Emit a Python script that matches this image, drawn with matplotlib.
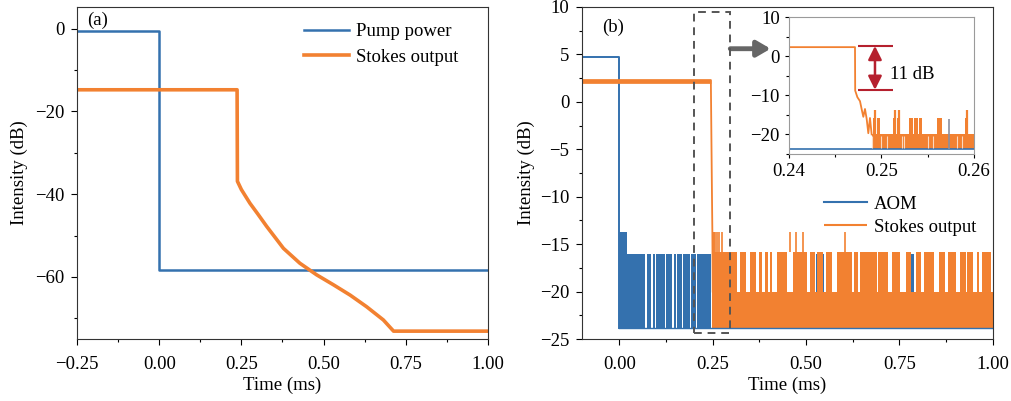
import matplotlib
matplotlib.use('Agg')
from matplotlib import pyplot as plt
from matplotlib.patches import Rectangle
from matplotlib.ticker import MultipleLocator

plt.rcParams['font.family'] = ['Liberation Serif', 'DejaVu Serif']
plt.rcParams['font.size'] = 13.5
plt.rcParams['axes.unicode_minus'] = True

BLUE = '#3471ae'
ORANGE = '#f28131'
RED = '#b5202e'

# ---- panel (a) data
pump_t = [-0.25, 0.0, 0.0, 1.0]
pump_db = [-0.6, -0.6, -58.3, -58.3]
stokes_a_t = [-0.25, 0.237, 0.238, 0.25, 0.276, 0.30, 0.327, 0.378, 0.428, 0.479,
              0.530, 0.581, 0.631, 0.682, 0.713, 1.0]
stokes_a_db = [-14.8, -14.8, -36.9, -38.9, -42.2, -44.8, -47.8, -53.1, -56.7, -59.5,
               -61.9, -64.4, -67.2, -70.4, -73.1, -73.1]

# ---- panel (b) data
aom_on_db = 4.7
aom_floor_db = -23.8
aom_mid_db = -16.0
aom_peak = (0.0, 0.02, -13.7)
aom_spans = [(0.0, 0.070), (0.073, 0.086), (0.089, 0.095), (0.098, 0.122), (0.125, 0.142),
             (0.145, 0.151), (0.154, 0.167), (0.170, 0.189), (0.192, 0.205), (0.208, 0.245),
             (0.432, 0.436), (0.510, 0.513), (0.526, 0.529), (0.545, 0.548), (0.781, 0.790),
             (0.800, 0.803), (0.958, 0.961)]

stokes_flat_t = [-0.1, 0.245]
stokes_flat_db = [2.2, 2.2]
stokes_edge_t = [0.245, 0.2465, 0.248, 0.249, 0.250]
stokes_edge_db = [2.2, -4.0, -10.0, -13.7, -20.0]
stokes_floor_db = -23.8
stokes_band_db = -20.0
stokes_mid_db = -15.8
stokes_peak_db = -13.7
stokes_band_start = 0.249
stokes_spans = [(0.248, 0.315), (0.322, 0.340), (0.350, 0.366), (0.373, 0.381), (0.389, 0.399),
                (0.404, 0.408), (0.423, 0.450), (0.464, 0.503), (0.511, 0.524), (0.530, 0.546),
                (0.553, 0.569), (0.584, 0.622), (0.627, 0.640), (0.644, 0.689), (0.693, 0.720),
                (0.729, 0.751), (0.767, 0.781), (0.793, 0.807), (0.816, 0.843), (0.856, 0.872),
                (0.881, 0.900), (0.912, 0.927), (0.932, 0.948), (0.957, 0.963), (0.970, 0.995)]
stokes_peaks = [0.250, 0.253, 0.257, 0.262, 0.268, 0.274, 0.457, 0.473, 0.491, 0.604]

# ---- inset data (zoom on 0.24-0.26 ms)
ins_t = [0.24, 0.24714, 0.24716, 0.24740, 0.24768, 0.24790, 0.24804, 0.24822, 0.24840,
         0.24858, 0.24876, 0.24894]
ins_db = [2.3, 2.3, -8.8, -10.5, -11.5, -14.0, -15.5, -13.5, -16.0, -19.7, -15.8, -20.0]
ins_band_start = 0.24894
ins_mid_spans = [(0.24912, 0.24944), (0.24952, 0.24984), (0.25128, 0.25160), (0.25168, 0.25200),
                 (0.25301, 0.25340), (0.25350, 0.25395), (0.25405, 0.25434), (0.25604, 0.25651),
                 (0.25903, 0.25939)]
ins_peak_t = [0.24935, 0.25146, 0.25190, 0.25925]
ins_aom_t = [0.25735]
ins_gap_t = [0.24900, 0.24990, 0.25060, 0.25220, 0.25240, 0.25500, 0.25560, 0.25820, 0.25870]
gap_top_db = 2.6
gap_bottom_db = -8.6


def style_axes(ax):
    ax.tick_params(which='major', direction='out', length=4, width=0.8, top=False, right=False)
    ax.tick_params(which='minor', direction='out', length=2.5, width=0.8, top=False, right=False)
    ax.tick_params(axis='x', which='major', pad=8)
    ax.tick_params(axis='y', which='major', pad=5)
    for s in ax.spines.values():
        s.set_color('#333333')


fig = plt.figure(figsize=(10.12, 4.01), dpi=100)

# ---------------- (a)
ax1 = fig.add_axes([0.0761, 0.1546, 0.406, 0.828])
ax1.plot(pump_t, pump_db, color=BLUE, lw=1.8, label='Pump power')
ax1.plot(stokes_a_t, stokes_a_db, color=ORANGE, lw=2.6, label='Stokes output')
ax1.set_xlim(-0.25, 1.0)
ax1.set_ylim(-75, 5.2)
ax1.xaxis.set_major_locator(MultipleLocator(0.25))
ax1.xaxis.set_minor_locator(MultipleLocator(0.125))
ax1.yaxis.set_major_locator(MultipleLocator(20))
ax1.yaxis.set_minor_locator(MultipleLocator(10))
ax1.xaxis.set_major_formatter(lambda v, p: f'{v:.2f}'.replace('-', '\u2212'))
style_axes(ax1)
ax1.set_xlabel('Time (ms)', labelpad=3)
ax1.set_ylabel('Intensity (dB)', labelpad=5)
ax1.text(0.025, 0.985, '(a)', transform=ax1.transAxes, va='top', ha='left')
ax1.legend(loc='upper right', bbox_to_anchor=(0.955, 0.985), frameon=False,
           handlelength=2.4, handletextpad=0.35, borderaxespad=0.2, labelspacing=0.45)

# ---------------- (b)
ax2 = fig.add_axes([0.5751, 0.1546, 0.406, 0.828])
ax2.plot([-0.1, 0.0, 0.0], [aom_on_db, aom_on_db, aom_floor_db], color=BLUE, lw=1.4, label='AOM')
ax2.plot([0.0, 1.0], [aom_floor_db, aom_floor_db], color=BLUE, lw=1.0)
for a, b in aom_spans:
    ax2.fill_between([a, b], aom_floor_db, aom_mid_db, color=BLUE, lw=0)
ax2.fill_between([aom_peak[0], aom_peak[1]], aom_floor_db, aom_peak[2], color=BLUE, lw=0)

ax2.plot(stokes_flat_t, stokes_flat_db, color=ORANGE, lw=3.4, solid_capstyle='butt',
         label='Stokes output')
ax2.plot(stokes_edge_t, stokes_edge_db, color=ORANGE, lw=1.3)
ax2.fill_between([stokes_band_start, 1.0], stokes_floor_db, stokes_band_db, color=ORANGE, lw=0)
for a, b in stokes_spans:
    ax2.fill_between([a, b], stokes_floor_db, stokes_mid_db, color=ORANGE, lw=0)
ax2.vlines(stokes_peaks, stokes_mid_db, stokes_peak_db, color=ORANGE, lw=1.2)

ax2.set_xlim(-0.1, 1.0)
ax2.set_ylim(-25, 10)
ax2.xaxis.set_major_locator(MultipleLocator(0.25))
ax2.xaxis.set_minor_locator(MultipleLocator(0.125))
ax2.yaxis.set_major_locator(MultipleLocator(5))
ax2.yaxis.set_minor_locator(MultipleLocator(2.5))
ax2.xaxis.set_major_formatter(lambda v, p: f'{v:.2f}'.replace('-', '\u2212'))
style_axes(ax2)
ax2.set_xlabel('Time (ms)', labelpad=3)
ax2.set_ylabel('Intensity (dB)', labelpad=4)
ax2.text(0.05, 0.965, '(b)', transform=ax2.transAxes, va='top', ha='left')
leg = ax2.legend(loc='lower right', bbox_to_anchor=(1.0, 0.26), frameon=False,
                 handlelength=2.3, handletextpad=0.35, labelspacing=0.3)
for h in leg.legend_handles:
    h.set_linewidth(1.5)

ax2.add_patch(Rectangle((0.2, -24.4), 0.095, 33.9, fill=False, ls=(0, (4, 3)),
                        ec='#555555', lw=1.4, clip_on=False, zorder=5))
ax2.annotate('', xy=(0.405, 5.6), xytext=(0.297, 5.6),
             arrowprops=dict(arrowstyle='-|>,head_width=0.35,head_length=0.6',
                             lw=3.5, color='#666666', shrinkA=0, shrinkB=0))

# ---------------- inset
ax3 = fig.add_axes([0.7796, 0.616, 0.1828, 0.3416])
ax3.plot([0.24, 0.26], [aom_floor_db + 0.1, aom_floor_db + 0.1], color=BLUE, lw=1.2)
ax3.vlines(ins_aom_t, aom_floor_db, aom_mid_db, color='#8a8fa0', lw=1.2)
ax3.plot(ins_t, ins_db, color=ORANGE, lw=1.3)
ax3.fill_between([ins_band_start, 0.26], stokes_floor_db, stokes_band_db, color=ORANGE, lw=0)
ax3.vlines(ins_gap_t, stokes_floor_db + 0.3, stokes_band_db - 0.5, color='#fbd9c0', lw=0.8)
for a, b in ins_mid_spans:
    ax3.fill_between([a, b], stokes_band_db, stokes_mid_db, color=ORANGE, lw=0)
ax3.vlines(ins_peak_t, stokes_band_db, stokes_peak_db, color=ORANGE, lw=1.6)
ax3.hlines([gap_top_db, gap_bottom_db], 0.2475, 0.2512, color=RED, lw=1.5)
ax3.annotate('', xy=(0.2493, gap_top_db), xytext=(0.2493, gap_bottom_db),
             arrowprops=dict(arrowstyle='<|-|>,head_width=0.3,head_length=0.6',
                             lw=1.8, color=RED, shrinkA=0, shrinkB=0))
ax3.text(0.2509, -4.8, '11 dB', va='center', ha='left')
ax3.set_xlim(0.24, 0.26)
ax3.set_ylim(-25, 10)
ax3.xaxis.set_major_locator(MultipleLocator(0.01))
ax3.xaxis.set_minor_locator(MultipleLocator(0.005))
ax3.yaxis.set_major_locator(MultipleLocator(10))
ax3.yaxis.set_minor_locator(MultipleLocator(5))
ax3.xaxis.set_major_formatter(lambda v, p: f'{v:.2f}')
ax3.tick_params(which='major', direction='out', length=3, width=0.8, top=False, right=False)
ax3.tick_params(which='minor', direction='out', length=2, width=0.8, top=False, right=False)
for s in ax3.spines.values():
    s.set_color('#9a9a9a')

fig.savefig('out.png', dpi=100)
